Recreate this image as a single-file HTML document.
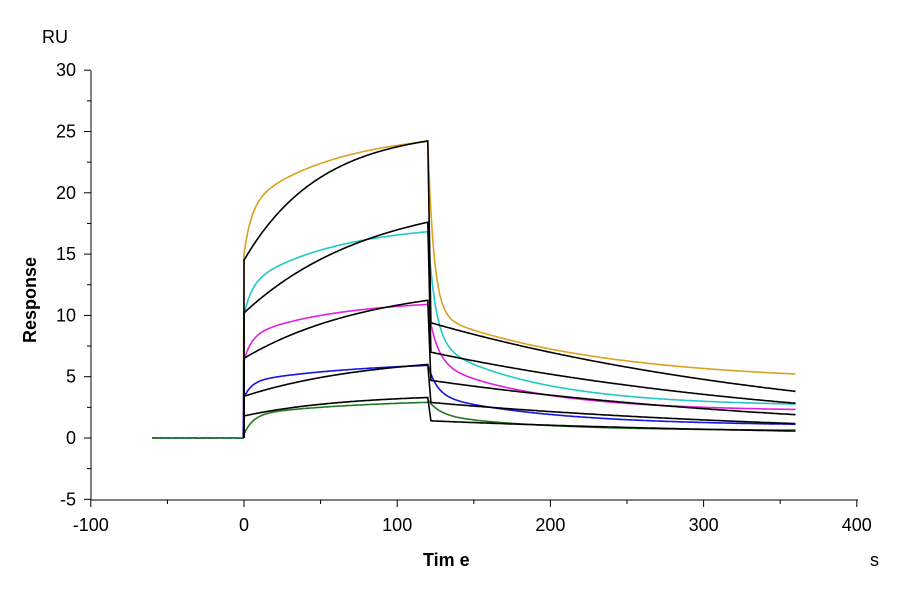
<!DOCTYPE html>
<html><head><meta charset="utf-8"><style>
html,body{margin:0;padding:0;background:#fff;}
svg{display:block;font-family:"Liberation Sans",Arial,sans-serif;}
</style></head><body>
<svg id="s" width="900" height="600" viewBox="0 0 900 600">
<g stroke="#000" stroke-width="1" fill="none" id="ax">
<line x1="91" y1="71" x2="91" y2="500"/>
<line x1="91" y1="500" x2="858" y2="500"/>
</g>
<g font-size="18" fill="#000" id="lbl">
<text x="42" y="43">RU</text>
<text x="870" y="566">s</text>
<text x="423" y="566" font-weight="bold">Tim e</text>
<text transform="translate(36,300) rotate(-90)" text-anchor="middle" font-weight="bold">Response</text>
</g>
</svg>
<script>
var S=document.getElementById('s'),NS='http://www.w3.org/2000/svg';
function X(t){return 244+t*1.532;}function Y(v){return 438-v*12.26;}
function el(n,a,txt){var e=document.createElementNS(NS,n);for(var k in a)e.setAttribute(k,a[k]);if(txt!==undefined)e.textContent=txt;S.appendChild(e);return e;}
for(var v=-5;v<=30;v+=2.5){var y=Y(v),maj=(v%5===0);el('line',{x1:maj?84:87,x2:91,y1:y,y2:y,stroke:'#000'});
 if(maj)el('text',{x:76,y:y+6,'text-anchor':'end','font-size':18},String(v));}
for(var t=-100;t<=400;t+=50){var x=X(t),maj=(t%100===0);el('line',{x1:x,x2:x,y1:500,y2:maj?507:504,stroke:'#000'});
 if(maj)el('text',{x:x,y:531,'text-anchor':'middle','font-size':18},String(t));}
function E(t,tau){return Math.exp(-t/tau);}
var col=[
 ['#d9a21f',15,4,5,6,60,4.6,14,4,5.5,110],
 ['#22c8c8',10,2.5,5,5,60,2.6,9,5,5.2,70],
 ['#e020e0',6.3,2,5,3,60,2.2,4.5,6,4,70],
 ['#1515e0',3.3,1.3,5,1.7,80,1.0,2.5,6,2.5,80],
 ['#1f7a1f',0.3,1.6,6,1.3,80,0.6,1.2,8,1.3,70]];
col.forEach(function(p){var d='';
 for(var t=-60;t<=360;t+=0.5){var v;
  if(t<0)v=0.02*Math.sin(t*0.7);
  else if(t<=120)v=p[1]+p[2]*(1-E(t,p[3]))+p[4]*(1-E(t,p[5]));
  else{var u=t-120;v=p[6]+p[7]*E(u,p[8])+p[9]*E(u,p[10]);}
  d+=(d?'L':'M')+X(t).toFixed(1)+' '+Y(v).toFixed(1);}
 el('path',{d:d,fill:'none',stroke:p[0],'stroke-width':1.6});});
var bl=[[14.5,10.7,0.02,9.4],[10.2,9.7,0.012,7.0],[6.5,6.2,0.012,4.7],[3.4,3.4,0.012,2.9],[1.8,1.8,0.015,1.4]];
bl.forEach(function(p){var d='M'+X(0)+' '+Y(0);
 for(var t=0;t<=120;t+=0.5){var v=p[0]+p[1]*(1-Math.exp(-p[2]*t));d+='L'+X(t).toFixed(1)+' '+Y(v).toFixed(1);}
 for(var t=122;t<=360;t+=1){var v=p[3]*Math.exp(-0.0038*(t-122));d+='L'+X(t).toFixed(1)+' '+Y(v).toFixed(1);}
 el('path',{d:d,fill:'none',stroke:'#000','stroke-width':1.6});});
</script>
</body></html>
